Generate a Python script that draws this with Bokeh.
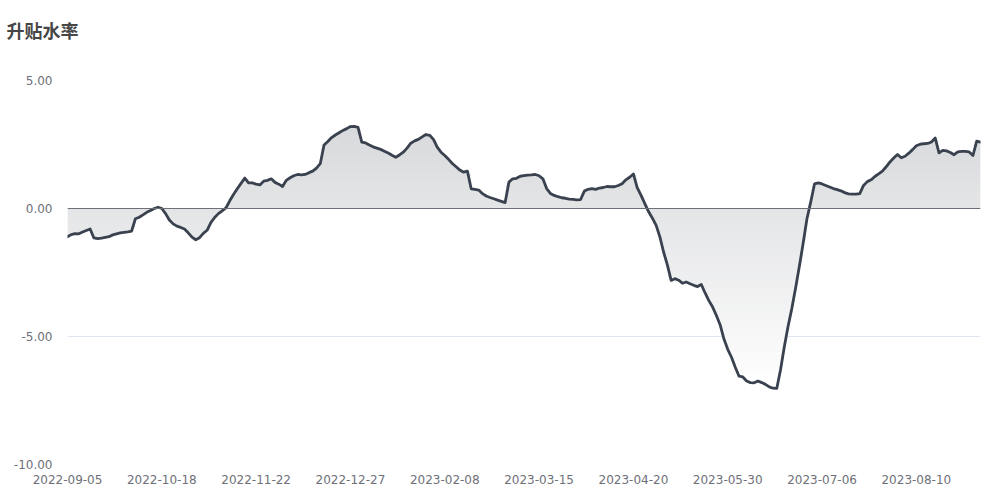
import numpy as np
from bokeh.plotting import figure
from bokeh.models import Range1d, FixedTicker, NumeralTickFormatter, Span, Title
from bokeh.embed import file_html
from bokeh.resources import INLINE

title_text = "升贴水率"

# values per trading day (index 0 = 2022-09-05)
values = [
    -1.10, -1.02, -0.98, -0.99, -0.92, -0.86, -0.80, -1.15, -1.18, -1.16,
    -1.13, -1.10, -1.03, -0.99, -0.95, -0.93, -0.91, -0.88, -0.40, -0.34,
    -0.25, -0.15, -0.08, 0.00, 0.05, 0.00, -0.20, -0.45, -0.60, -0.69,
    -0.74, -0.80, -0.95, -1.12, -1.22, -1.14, -0.97, -0.85, -0.55, -0.35,
    -0.20, -0.09, 0.02, 0.30, 0.55, 0.77, 0.98, 1.19, 1.00, 1.00,
    0.95, 0.92, 1.07, 1.10, 1.16, 1.02, 0.95, 0.86, 1.10, 1.20,
    1.28, 1.33, 1.31, 1.33, 1.40, 1.46, 1.58, 1.75, 2.48, 2.62,
    2.77, 2.87, 2.96, 3.05, 3.12, 3.20, 3.21, 3.17, 2.59, 2.56,
    2.48, 2.41, 2.36, 2.31, 2.24, 2.17, 2.08, 2.00, 2.09, 2.20,
    2.36, 2.55, 2.64, 2.70, 2.80, 2.89, 2.86, 2.70, 2.40, 2.20,
    2.07, 1.92, 1.76, 1.63, 1.50, 1.42, 1.46, 0.77, 0.75, 0.72,
    0.58, 0.49, 0.43, 0.38, 0.33, 0.28, 0.23, 1.03, 1.16, 1.18,
    1.26, 1.28, 1.30, 1.31, 1.33, 1.28, 1.16, 0.78, 0.59, 0.51,
    0.46, 0.42, 0.40, 0.37, 0.36, 0.34, 0.35, 0.68, 0.75, 0.78,
    0.75, 0.80, 0.82, 0.86, 0.85, 0.85, 0.90, 0.97, 1.12, 1.22,
    1.35, 0.82, 0.52, 0.20, -0.12, -0.37, -0.65, -1.10, -1.70, -2.20,
    -2.81, -2.74, -2.80, -2.92, -2.87, -2.94, -3.00, -3.05, -2.97, -3.30,
    -3.60, -3.85, -4.18, -4.55, -5.10, -5.50, -5.81, -6.20, -6.55, -6.58,
    -6.74, -6.80, -6.81, -6.74, -6.80, -6.87, -6.97, -7.02, -7.03, -6.30,
    -5.40, -4.60, -3.90, -3.10, -2.25, -1.35, -0.40, 0.25, 0.96, 1.00,
    0.96, 0.90, 0.84, 0.78, 0.74, 0.69, 0.62, 0.57, 0.56, 0.56,
    0.58, 0.90, 1.05, 1.12, 1.25, 1.35, 1.46, 1.63, 1.82, 1.97,
    2.11, 1.98, 2.04, 2.16, 2.30, 2.45, 2.51, 2.53, 2.54, 2.60,
    2.75, 2.17, 2.27, 2.25, 2.19, 2.10, 2.21, 2.23, 2.23, 2.21,
    2.07, 2.63, 2.59,
]

tick_labels = ["2022-09-05", "2022-10-18", "2022-11-22", "2022-12-27", "2023-02-08",
               "2023-03-15", "2023-04-20", "2023-05-30", "2023-07-06", "2023-08-10"]
label_step = 25
y_ticks = [-10, -5, 0, 5]

LINE = "#3a424f"
AXIS_TXT = "#6e7079"

n = len(values)
idx = np.arange(n)
vals = np.array(values, dtype=float)

p = figure(width=992, height=492, output_backend="svg", toolbar_location=None, title=None,
           x_range=Range1d(0, n - 1), y_range=Range1d(-10, 5),
           min_border_left=67, min_border_right=12, min_border_top=80, min_border_bottom=28)
p.outline_line_color = None
p.background_fill_color = "white"
p.border_fill_color = "white"

# spacer (nearest the frame) and the real title above it
spacer = Title(text=" ", text_font_size="18px", standoff=16)
p.add_layout(spacer, "above")
main_title = Title(text=title_text, text_font="Noto Sans CJK SC", text_font_size="18px",
                   text_font_style="bold", text_color="#464646", offset=-61, standoff=0)
p.add_layout(main_title, "above")

# gradient-like fill built from horizontal bands
vmax, vmin = vals.max(), vals.min()
nb = 70
edges = np.linspace(vmin, vmax, nb + 1)
base_rgb = np.array([int(LINE[i:i + 2], 16) for i in (1, 3, 5)], dtype=float)
ov = 0.04
for k in range(nb):
    a, b = edges[k], edges[k + 1]
    mid = 0.5 * (a + b)
    alpha = 0.2 * (mid - vmin) / (vmax - vmin)
    rgb = 255 - alpha * (255 - base_rgb)
    col = "#%02x%02x%02x" % tuple(int(round(c)) for c in rgb)
    lo, hi = a - ov, b + ov
    y1 = np.clip(np.zeros(n), lo, hi)
    y2 = np.clip(vals, lo, hi)
    p.varea(x=idx, y1=y1, y2=y2, fill_color=col, fill_alpha=1.0)

p.line(idx, vals, line_color=LINE, line_width=2.8, line_join="round", line_cap="round")

p.add_layout(Span(location=0, dimension="width", line_color=AXIS_TXT, line_width=1))

p.xgrid.visible = False
p.ygrid.ticker = FixedTicker(ticks=y_ticks)
p.ygrid.grid_line_color = "#e0e6f1"
p.ygrid.grid_line_width = 1

xt = list(range(0, label_step * len(tick_labels), label_step))
p.xaxis.ticker = FixedTicker(ticks=xt)
p.xaxis.major_label_overrides = {t: l for t, l in zip(xt, tick_labels)}
p.yaxis.ticker = FixedTicker(ticks=y_ticks)
p.yaxis.formatter = NumeralTickFormatter(format="0.00")

for ax in (p.xaxis[0], p.yaxis[0]):
    ax.axis_line_color = None
    ax.major_tick_line_color = None
    ax.minor_tick_line_color = None
    ax.major_label_text_font = "DejaVu Sans"
    ax.major_label_text_font_size = "12px"
    ax.major_label_text_color = AXIS_TXT
p.xaxis.major_label_standoff = 4
p.yaxis.major_label_standoff = 9

open("out.html", "w").write(file_html(p, INLINE))
